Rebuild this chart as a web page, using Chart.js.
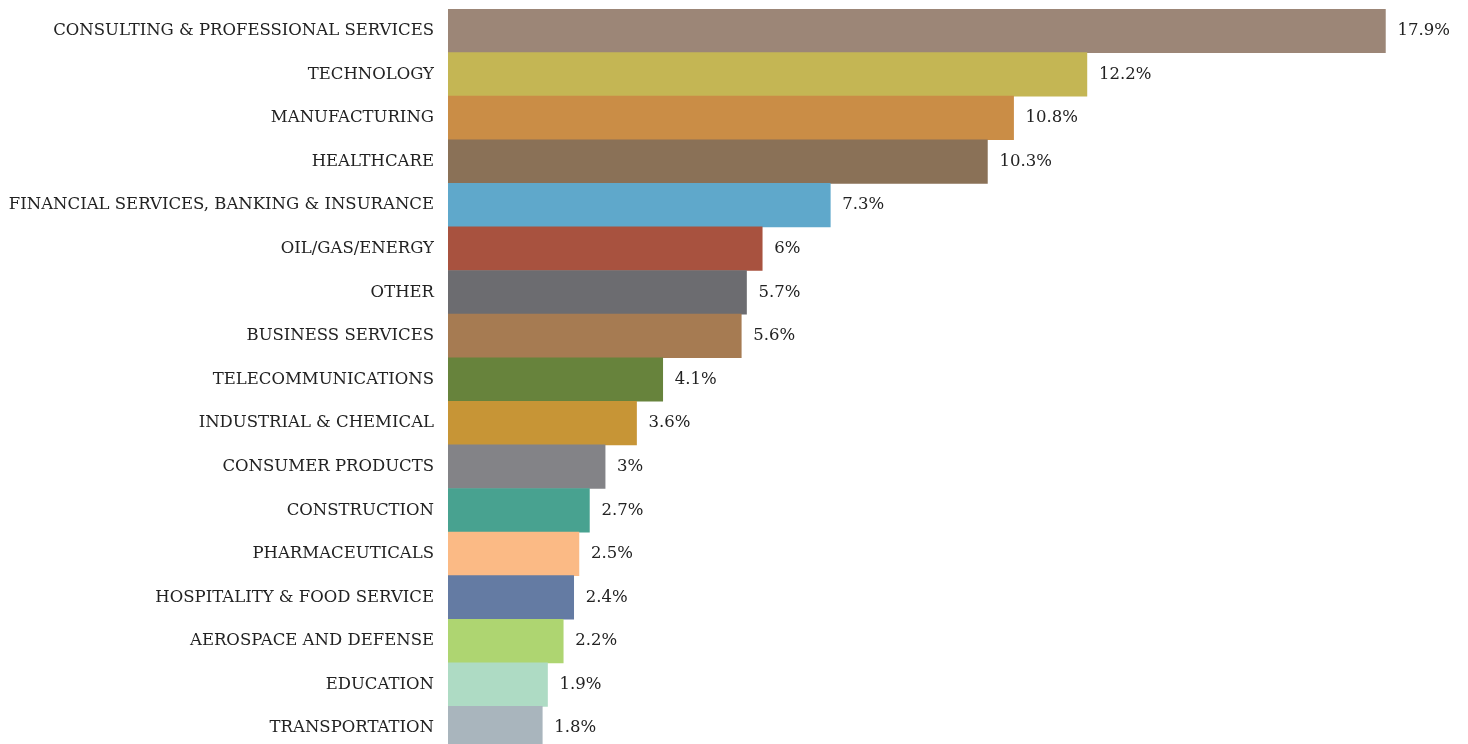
<!DOCTYPE html>
<html>
<head>
<meta charset="utf-8">
<script src="https://cdn.jsdelivr.net/npm/chart.js@4"></script>
<style>
  html, body { margin: 0; padding: 0; background: #fff; overflow: hidden; }
  #wrap { width: 1468px; height: 752px; position: relative; }
</style>
</head>
<body>
<div id="wrap"><canvas id="chart"></canvas></div>
<script>
const industries = [
  'CONSULTING & PROFESSIONAL SERVICES',
  'TECHNOLOGY',
  'MANUFACTURING',
  'HEALTHCARE',
  'FINANCIAL SERVICES, BANKING & INSURANCE',
  'OIL/GAS/ENERGY',
  'OTHER',
  'BUSINESS SERVICES',
  'TELECOMMUNICATIONS',
  'INDUSTRIAL & CHEMICAL',
  'CONSUMER PRODUCTS',
  'CONSTRUCTION',
  'PHARMACEUTICALS',
  'HOSPITALITY & FOOD SERVICE',
  'AEROSPACE AND DEFENSE',
  'EDUCATION',
  'TRANSPORTATION'
];
const shares = [17.9, 12.2, 10.8, 10.3, 7.3, 6, 5.7, 5.6, 4.1, 3.6, 3, 2.7, 2.5, 2.4, 2.2, 1.9, 1.8];
const barColors = [
  '#9c8677', '#c4b654', '#ca8d46', '#8a7157', '#5fa8cb', '#a8523f',
  '#6c6c70', '#a67b52', '#67833c', '#c79536', '#838387', '#48a290',
  '#fbba85', '#647ba3', '#aed571', '#aedbc4', '#a9b5bd'
];

const FONT = '"DejaVu Serif", serif';

// percentage labels at the end of each bar
const valueLabels = {
  id: 'valueLabels',
  afterDatasetsDraw(chart) {
    const ctx = chart.ctx;
    const meta = chart.getDatasetMeta(0);
    ctx.save();
    ctx.font = '16.5px ' + FONT;
    ctx.fillStyle = '#222';
    ctx.textAlign = 'left';
    ctx.textBaseline = 'middle';
    meta.data.forEach((bar, i) => {
      ctx.fillText(shares[i] + '%', bar.x + 12, bar.y);
    });
    ctx.restore();
  }
};

new Chart(document.getElementById('chart'), {
  type: 'bar',
  data: {
    labels: industries,
    datasets: [{
      data: shares,
      backgroundColor: barColors,
      borderWidth: 0,
      barPercentage: 1,
      categoryPercentage: 1
    }]
  },
  options: {
    indexAxis: 'y',
    responsive: true,
    maintainAspectRatio: false,
    animation: false,
    layout: { padding: { top: 9, bottom: 2, right: 25, left: 0 } },
    plugins: {
      legend: { display: false },
      tooltip: { enabled: false }
    },
    scales: {
      x: {
        min: 0,
        max: 19,
        display: false
      },
      y: {
        grid: { display: false, drawTicks: false },
        border: { display: false },
        ticks: {
          padding: 14,
          color: '#222',
          font: { family: FONT, size: 16.5 }
        },
        afterFit(scale) {
          scale.width = 448;
          scale.paddingTop = 0;
          scale.paddingBottom = 0;
        }
      }
    }
  },
  plugins: [valueLabels]
});
</script>
</body>
</html>
